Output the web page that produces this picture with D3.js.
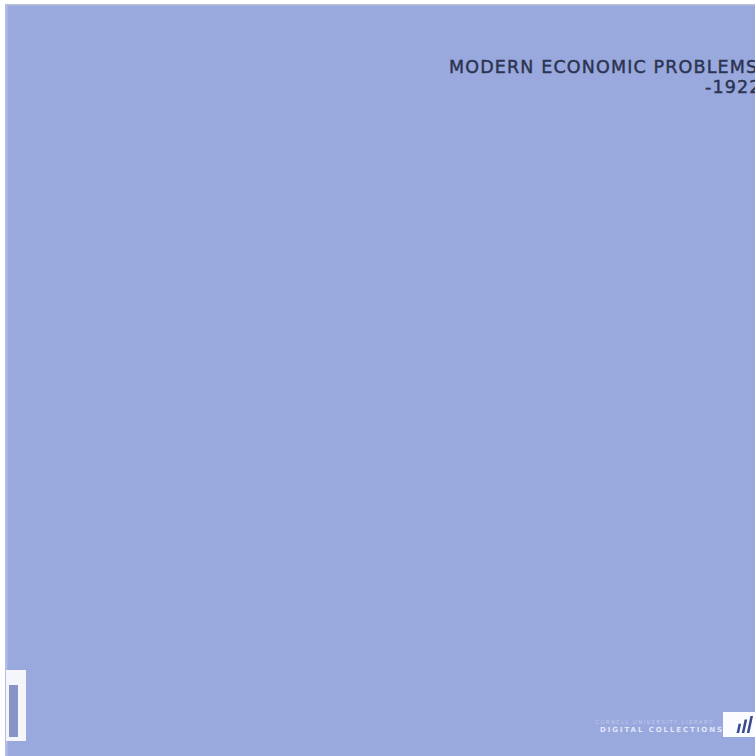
<!DOCTYPE html>
<html>
<head>
<meta charset="utf-8">
<script src="https://cdn.jsdelivr.net/npm/d3@7"></script>
<style>
  html, body { margin: 0; padding: 0; background: #fff; }
  svg { display: block; }
</style>
</head>
<body>
<div id="view"></div>
<script>
// cover texts
const titleLines = ["MODERN ECONOMIC PROBLEMS", "-1922"];
const imprintLines = ["CORNELL UNIVERSITY LIBRARY", "DIGITAL COLLECTIONS"];
// logo bar heights (relative)
const logoBars = [0.55, 0.8, 1.0];

const width = 755;
const height = 756;

const svg = d3.select("#view")
    .append("svg")
        .attr("width", width)
        .attr("height", height);

// cover area
const cover = {left: 5, top: 4};
svg.append("rect")
    .attr("x", cover.left)
    .attr("y", cover.top)
    .attr("width", width - cover.left)
    .attr("height", height - cover.top)
    .attr("fill", "#99a9dd");
svg.append("rect")
    .attr("x", cover.left)
    .attr("y", cover.top)
    .attr("width", width - cover.left)
    .attr("height", 1.5)
    .attr("fill", "#b9bfd6");
svg.append("rect")
    .attr("x", cover.left)
    .attr("y", cover.top)
    .attr("width", 2.5)
    .attr("height", height - cover.top)
    .attr("fill", "#b3bde6");

// title block
const lineY = d3.scaleLinear().domain([0, 1]).range([73, 93]);
svg.append("g")
    .selectAll("text")
    .data(titleLines)
    .join("text")
        .attr("x", (d, i) => i == 0 ? 449 : 705)
        .attr("y", (d, i) => lineY(i))
        .attr("font-family", "DejaVu Sans")
        .attr("font-size", 17.5)
        .attr("letter-spacing", 1.15)
        .attr("fill", "#2c3452")
        .attr("stroke", "#2c3452")
        .attr("stroke-width", 0.45)
        .text(d => d);

// bookmark strip bottom left
svg.append("rect")
    .attr("x", 6)
    .attr("y", 670)
    .attr("width", 20)
    .attr("height", 71)
    .attr("fill", "#f4f6fc");
svg.append("rect")
    .attr("x", 9)
    .attr("y", 685)
    .attr("width", 9)
    .attr("height", 52)
    .attr("fill", "#8894c8");

// imprint
const imprintY = d3.scaleLinear().domain([0, 1]).range([724, 731.5]);
svg.append("g")
    .selectAll("text")
    .data(imprintLines)
    .join("text")
        .attr("x", (d, i) => i == 0 ? 595 : 600)
        .attr("y", (d, i) => imprintY(i))
        .attr("font-family", "DejaVu Sans")
        .attr("font-weight", (d, i) => i == 0 ? "normal" : "bold")
        .attr("font-size", (d, i) => i == 0 ? 5.5 : 7)
        .attr("textLength", (d, i) => i == 0 ? 117 : 122)
        .attr("lengthAdjust", "spacing")
        .attr("fill", (d, i) => i == 0 ? "#c0c8ee" : "#e2e6f8")
        .text(d => d);

// logo box
svg.append("rect")
    .attr("x", 723)
    .attr("y", 712)
    .attr("width", width - 723)
    .attr("height", 25)
    .attr("fill", "#fbfcff");
const barX = d3.scaleBand().domain(d3.range(logoBars.length)).range([734, 752]).padding(0.5);
const barY = d3.scaleLinear().domain([0, 1]).range([733, 716]);
svg.append("g")
    .selectAll("rect")
    .data(logoBars)
    .join("rect")
        .attr("x", (d, i) => barX(i))
        .attr("y", d => barY(d))
        .attr("width", barX.bandwidth())
        .attr("height", d => barY(0) - barY(d))
        .attr("fill", "#3a4a8c")
        .attr("transform", `skewX(-12) translate(${barY(0) * Math.tan(12 * Math.PI / 180)},0)`);
</script>
</body>
</html>
